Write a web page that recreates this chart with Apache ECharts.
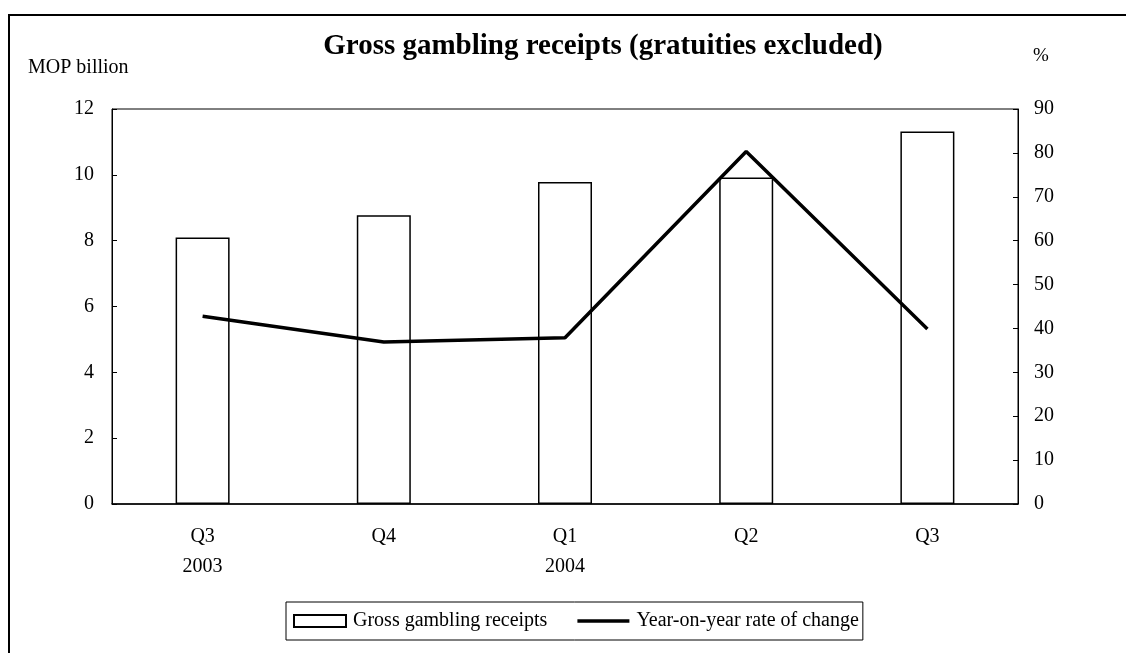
<!DOCTYPE html>
<html>
<head>
<meta charset="utf-8">
<script src="https://cdn.jsdelivr.net/npm/echarts@6/dist/echarts.min.js"></script>
<style>
  html, body { margin: 0; padding: 0; background: #fff; }
  #chart { width: 1126px; height: 653px; }
</style>
</head>
<body>
<div id="chart"></div>
<script>
// Quarterly gross gambling receipts and their year-on-year change
const categories = ['Q3\n2003', 'Q4', 'Q1\n2004', 'Q2', 'Q3'];
const receipts = [8.1, 8.77, 9.78, 9.92, 11.32];        // MOP billion
const yoyChange = [42.8, 36.9, 37.9, 80.3, 39.9];        // %
const leftTicks = { min: 0, max: 12, interval: 2 };
const rightTicks = { min: 0, max: 90, interval: 10 };

const FONT = "'Liberation Serif', 'Times New Roman', serif";

const chart = echarts.init(document.getElementById('chart'));
chart.setOption({
  animation: false,
  backgroundColor: '#fff',
  textStyle: { fontFamily: FONT, color: '#000' },
  title: {
    text: 'Gross gambling receipts (gratuities excluded)',
    left: 598,
    top: 27,
    textAlign: 'center',
    textStyle: { fontFamily: FONT, fontSize: 29, fontWeight: 'bold', color: '#000' }
  },
  graphic: [
    {
      type: 'rect',
      silent: true,
      shape: { x: 9, y: 15, width: 1300, height: 800 },
      style: { fill: 'none', stroke: '#000', lineWidth: 2 }
    },
    {
      type: 'text',
      left: 28, top: 58,
      style: { text: 'MOP billion', font: "20px " + FONT, fill: '#000' }
    },
    {
      type: 'text',
      left: 1033, top: 47,
      style: { text: '%', font: "19px " + FONT, fill: '#000' }
    }
  ],
  grid: {
    left: 112, right: 108, top: 109, bottom: 149,
    show: true, borderColor: '#000', borderWidth: 1
  },
  legend: {
    left: 286, top: 602,
    orient: 'horizontal',
    borderColor: '#000', borderWidth: 1, borderRadius: 0,
    padding: [9, 4, 9, 7],
    itemWidth: 52, itemHeight: 12, itemGap: 30,
    textStyle: { fontFamily: FONT, fontSize: 20, color: '#000', padding: [0, 0, 0, 2] },
    data: [
      { name: 'Gross gambling receipts', icon: 'rect', itemStyle: { borderWidth: 2 } },
      { name: 'Year-on-year rate of change', icon: 'path://M0,0 L52,0 L52,3.5 L0,3.5 Z' }
    ]
  },
  xAxis: {
    type: 'category',
    data: categories,
    axisLine: { lineStyle: { color: '#000', width: 1.5 } },
    axisTick: { show: false },
    axisLabel: { fontFamily: FONT, fontSize: 20, color: '#000', lineHeight: 30, margin: 18 }
  },
  yAxis: [
    {
      type: 'value',
      min: leftTicks.min, max: leftTicks.max, interval: leftTicks.interval,
      axisLine: { show: true, lineStyle: { color: '#000', width: 1 } },
      axisTick: { show: true, inside: true, length: 5, lineStyle: { color: '#000' } },
      splitLine: { show: false },
      axisLabel: { fontFamily: FONT, fontSize: 20, color: '#000', margin: 18 }
    },
    {
      type: 'value',
      position: 'right',
      min: rightTicks.min, max: rightTicks.max, interval: rightTicks.interval,
      axisLine: { show: true, lineStyle: { color: '#000', width: 1 } },
      axisTick: { show: true, inside: true, length: 5, lineStyle: { color: '#000' } },
      splitLine: { show: false },
      axisLabel: { fontFamily: FONT, fontSize: 20, color: '#000', margin: 16 }
    }
  ],
  series: [
    {
      name: 'Gross gambling receipts',
      type: 'bar',
      yAxisIndex: 0,
      data: receipts,
      barWidth: 54,
      itemStyle: { color: '#fff', borderColor: '#000', borderWidth: 1.5 }
    },
    {
      name: 'Year-on-year rate of change',
      type: 'line',
      yAxisIndex: 1,
      data: yoyChange,
      symbol: 'none',
      lineStyle: { color: '#000', width: 3.5 },
      itemStyle: { color: '#000' }
    }
  ]
});
</script>
</body>
</html>
